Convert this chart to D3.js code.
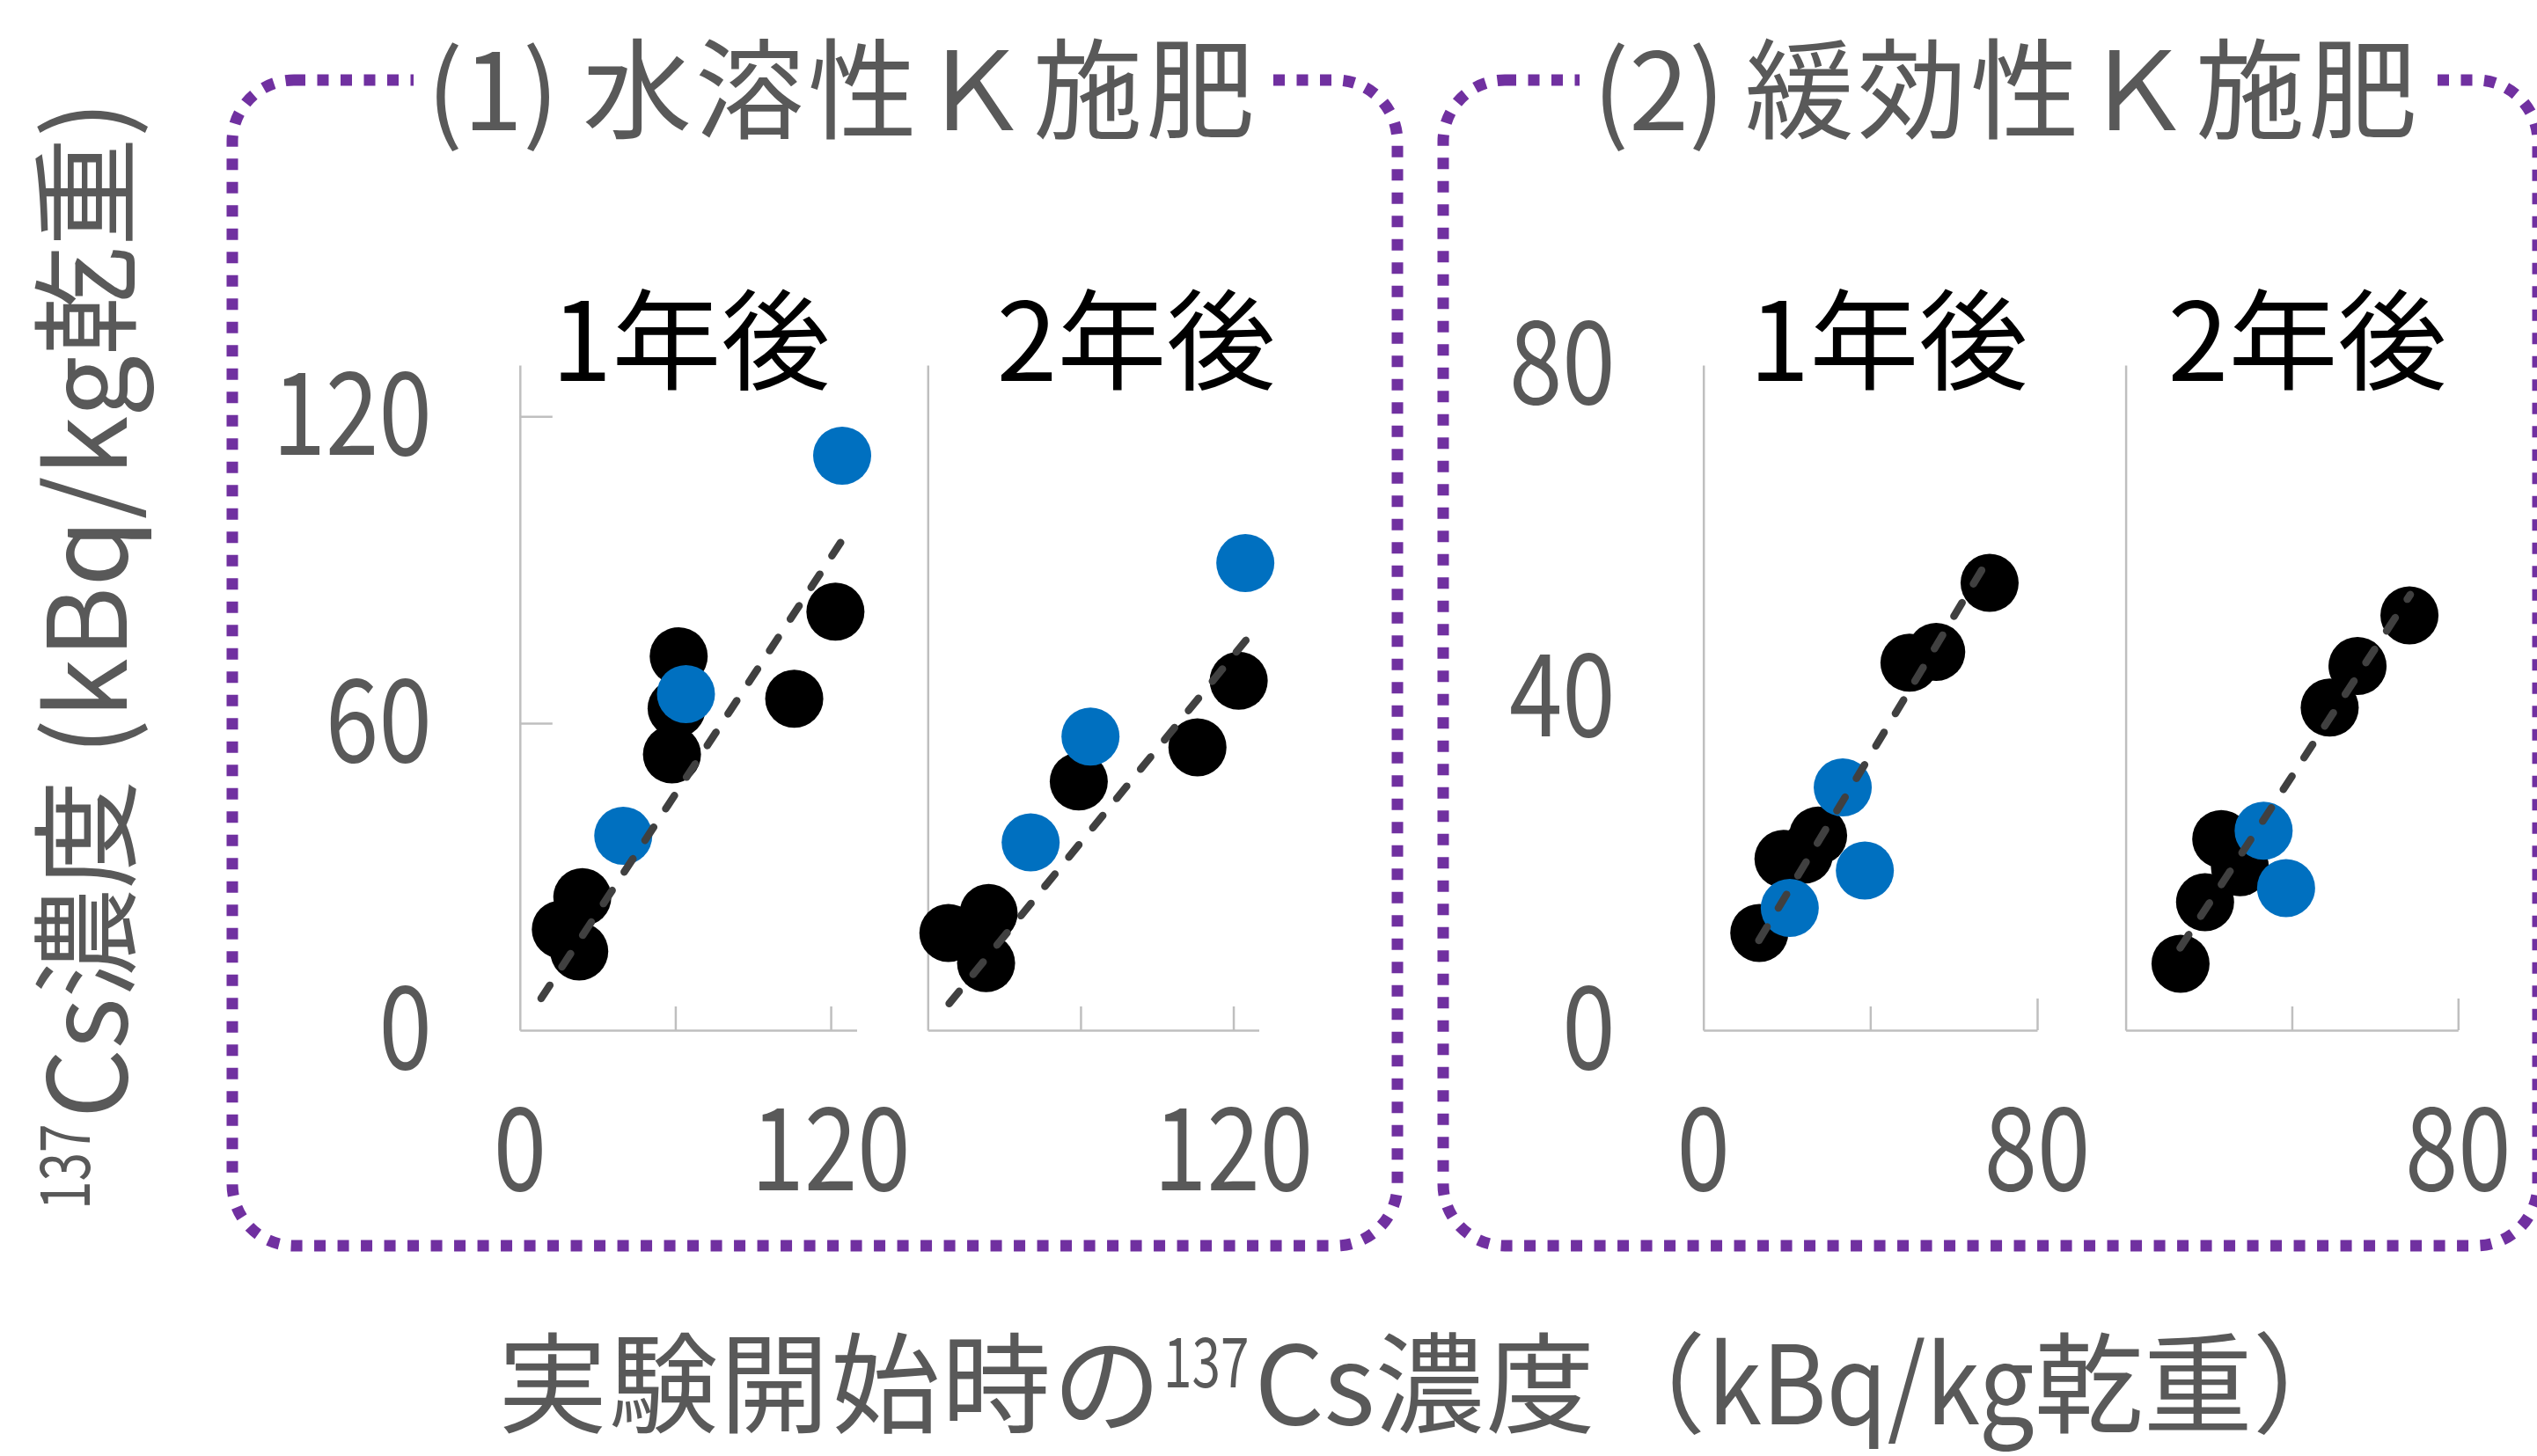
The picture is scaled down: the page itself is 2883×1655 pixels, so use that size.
<!DOCTYPE html>
<html>
<head>
<meta charset="utf-8">
<script src="https://cdn.jsdelivr.net/npm/d3@7"></script>
<style>
  html, body { margin: 0; padding: 0; background: #ffffff; }
  svg { display: block; }
  text { font-family: "Noto Sans CJK JP", "Noto Sans", sans-serif; }
</style>
</head>
<body>
<svg id="chart" width="2883" height="1655"></svg>
<script>
// ---- data ----------------------------------------------------------------
// group headings (two fertiliser treatments) and panel headings
const groupNumbers = ["(1)", "(2)"];
const groupTitles  = ["水溶性Ｋ施肥", "緩効性Ｋ施肥"];
const panelTitles  = ["1年後", "2年後", "1年後", "2年後"];

// axis extents and ticks (kBq/kg dry weight)
const groupAxisMax   = [130, 80];
const yTickLabels    = [[0, 60, 120], [0, 40, 80]];
const xTickLabels    = [[0, 120], [120], [0, 80], [80]];
const xTickMarks     = [[60, 120], [60, 120], [40, 80], [40, 80]];
const yTickMarks     = [[60, 120], [], [], []];

// [initial 137Cs, 137Cs after n years]
const waterYear1Black = [[121.8, 81.8], [105.9, 64.8], [61.3, 73.1], [60.5, 62.9], [58.7, 53.9], [24.1, 26.0], [15.8, 19.7], [22.9, 15.4]];
const waterYear1Blue  = [[124.4, 112.3], [64.1, 65.7], [39.9, 38.0]];
const waterYear1Trend = [[8.2, 6.2], [124.3, 95.7]];

const waterYear2Black = [[122.1, 68.3], [105.9, 55.3], [59.3, 48.6], [23.9, 22.9], [8.1, 19.0], [22.9, 13.1]];
const waterYear2Blue  = [[124.7, 91.3], [63.9, 57.4], [40.4, 36.7]];
const waterYear2Trend = [[8.4, 5.2], [124.9, 76.2]];

const slowYear1Black = [[68.6, 53.8], [55.8, 45.5], [49.4, 44.2], [27.5, 23.4], [24.1, 21.1], [19.2, 20.6], [13.4, 11.7]];
const slowYear1Blue  = [[33.4, 29.2], [38.7, 19.2], [20.7, 14.7]];
const slowYear1Trend = [[13.3, 10.8], [66.9, 55.5]];

const slowYear2Black = [[68.3, 49.9], [55.8, 43.8], [49.1, 38.8], [23.0, 23.0], [27.5, 19.6], [19.1, 15.4], [13.2, 8.0]];
const slowYear2Blue  = [[33.2, 24.0], [38.6, 17.1]];
const slowYear2Trend = [[13.1, 9.9], [68.5, 52.4]];

const panelBlack = [waterYear1Black, waterYear2Black, slowYear1Black, slowYear2Black];
const panelBlue  = [waterYear1Blue, waterYear2Blue, slowYear1Blue, slowYear2Blue];
const panelTrend = [waterYear1Trend, waterYear2Trend, slowYear1Trend, slowYear2Trend];

// ---- layout --------------------------------------------------------------
const W = 2883, H = 1655;
const plotTop = 415, plotBottom = 1171;
const panels = [
  { left: 590.8,  right: 973.5,  group: 0, titleX: 785 },
  { left: 1054.3, right: 1430.5, group: 0, titleX: 1291 },
  { left: 1935.7, right: 2315.0, group: 1, titleX: 2146 },
  { left: 2415.6, right: 2793.3, group: 1, titleX: 2622 }
];
const boxes = [
  { x: 264,  y: 91, w: 1324, h: 1325, numX: 485,  titleX: 662,  gapL: 470,  gapR: 1440 },
  { x: 1640, y: 91, w: 1244, h: 1325, numX: 1810, titleX: 1983, gapL: 1795, gapR: 2765 }
];

const GREY_TEXT = "#595959";
const AXIS_GREY = "#bfbfbf";
const PURPLE = "#7030A0";
const BLUE = "#0070C0";
const TREND = "#404040";
const NUM_FS = 131, DIGIT_SX = 0.83;
const DOT_R = 33;

const svg = d3.select("#chart");
svg.append("rect").attr("width", W).attr("height", H).attr("fill", "#ffffff");

// ---- dotted group frames with headings -----------------------------------
boxes.forEach((b, i) => {
  svg.append("rect")
    .attr("x", b.x).attr("y", b.y).attr("width", b.w).attr("height", b.h)
    .attr("rx", 70).attr("ry", 70)
    .attr("fill", "none").attr("stroke", PURPLE)
    .attr("stroke-width", 13).attr("stroke-dasharray", "13 13.5");

  svg.append("rect")
    .attr("x", b.gapL).attr("y", b.y - 20)
    .attr("width", b.gapR - b.gapL).attr("height", 40)
    .attr("fill", "#ffffff");

  const t = svg.append("text")
    .attr("y", 148).attr("fill", GREY_TEXT);
  t.append("tspan").attr("x", b.numX).attr("font-size", 122).text(groupNumbers[i]);
  t.append("tspan").attr("x", b.titleX).attr("font-size", 124)
    .attr("letter-spacing", 4).text(groupTitles[i]);
});

// ---- helpers ---------------------------------------------------------------
function numberLabel(sel, x, y, str, anchor) {
  sel.append("text")
    .attr("transform", `translate(${x},${y}) scale(${DIGIT_SX},1)`)
    .attr("text-anchor", anchor)
    .attr("font-size", NUM_FS)
    .attr("fill", GREY_TEXT)
    .text(str);
}

// lays text runs end to end; each run may be raised, squeezed or spaced
function textRuns(sel, parts, color) {
  let cx = 0;
  parts.forEach(p => {
    const sx = p.sx || 1;
    const t = sel.append("text")
      .attr("font-size", p.size)
      .attr("fill", color)
      .attr("letter-spacing", p.ls || 0)
      .attr("transform", `translate(${cx},${p.dy || 0}) scale(${sx},1)`)
      .text(p.text);
    cx += t.node().getComputedTextLength() * sx + (p.gap || 0);
  });
  return cx;
}

// ---- panels ---------------------------------------------------------------
panels.forEach((p, i) => {
  const max = groupAxisMax[p.group];
  const x = d3.scaleLinear().domain([0, max]).range([p.left, p.right]);
  const y = d3.scaleLinear().domain([0, max]).range([plotBottom, plotTop]);
  const g = svg.append("g");

  // x axis with inward ticks
  const xa = g.append("g").attr("transform", `translate(0,${plotBottom})`)
    .call(d3.axisBottom(x).tickValues(xTickMarks[i]).tickSizeInner(-27)
      .tickSizeOuter(0).tickFormat(""));
  xa.selectAll(".tick line").attr("y2", d => d === max ? -36 : -27);

  // y axis with inward ticks
  g.append("g").attr("transform", `translate(${p.left},0)`)
    .call(d3.axisLeft(y).tickValues(yTickMarks[i]).tickSizeInner(-37)
      .tickSizeOuter(0).tickFormat(""));

  g.selectAll(".domain, .tick line")
    .attr("stroke", AXIS_GREY).attr("stroke-width", 2.5);
  g.selectAll(".tick text").remove();

  // tick labels
  xTickLabels[i].forEach(v => numberLabel(svg, x(v), 1353, String(v), "middle"));
  if (i === 0 || i === 2) {
    yTickLabels[p.group].forEach(v =>
      numberLabel(svg, p.left - 100, y(v) + 44, String(v), "end"));
  }

  // points
  g.append("g").selectAll("circle").data(panelBlack[i]).join("circle")
    .attr("cx", d => x(d[0])).attr("cy", d => y(d[1])).attr("r", DOT_R)
    .attr("fill", "#000000");
  g.append("g").selectAll("circle").data(panelBlue[i]).join("circle")
    .attr("cx", d => x(d[0])).attr("cy", d => y(d[1])).attr("r", DOT_R)
    .attr("fill", BLUE);

  // regression line
  g.append("path").datum(panelTrend[i])
    .attr("d", d3.line().x(d => x(d[0])).y(d => y(d[1])))
    .attr("fill", "none").attr("stroke", TREND).attr("stroke-width", 8.5)
    .attr("stroke-linecap", "round").attr("stroke-dasharray", "18 25");

  // panel heading
  svg.append("text")
    .attr("x", p.titleX).attr("y", 433)
    .attr("text-anchor", "middle").attr("font-size", 124)
    .attr("fill", "#000000").text(panelTitles[i]);
});

// ---- axis titles -----------------------------------------------------------
const sup = { text: "137", size: 78, dy: -42, sx: 0.75, gap: 6 };

const xTitle = svg.append("g").attr("transform", "translate(566,1619)");
textRuns(xTitle, [
  { text: "実験開始時の", size: 124, ls: 2 },
  sup,
  { text: "Cs", size: 124 },
  { text: "濃度（", size: 124, ls: 2 },
  { text: "kBq/kg", size: 124, sx: 0.9 },
  { text: "乾重）", size: 124 }
], GREY_TEXT);

const yTitle = svg.append("g").attr("transform", "translate(144,1375) rotate(-90)");
textRuns(yTitle, [
  sup,
  { text: "Cs", size: 124 },
  { text: "濃度 (", size: 124 },
  { text: "kBq/kg", size: 124 },
  { text: "乾重)", size: 124 }
], GREY_TEXT);
</script>
</body>
</html>
